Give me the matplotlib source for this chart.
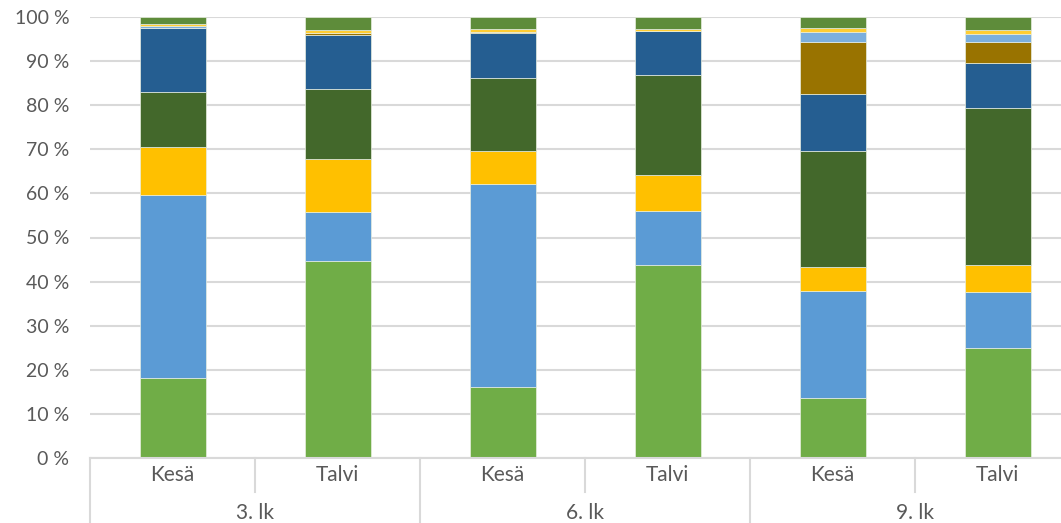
import matplotlib
matplotlib.use("Agg")
import matplotlib.pyplot as plt
from matplotlib.lines import Line2D
import numpy as np

groups = ["3. lk", "6. lk", "9. lk"]
seasons = ["Kesä", "Talvi", "Kesä", "Talvi", "Kesä", "Talvi"]

s1 = [18.1, 44.7, 16.1, 43.8, 13.6, 24.9]
s2 = [41.5, 11.1, 46.0, 12.2, 24.3, 12.7]
s3 = [10.9, 12.0, 7.5, 8.2, 5.4, 6.2]
s4 = [12.5, 15.9, 16.6, 22.6, 26.3, 35.5]
s5 = [14.6, 12.2, 10.1, 10.0, 12.9, 10.2]
s6 = [0.0, 0.4, 0.3, 0.0, 11.8, 4.8]
s7 = [0.3, 0.0, 0.0, 0.0, 2.4, 1.8]
s8 = [0.6, 0.7, 0.6, 0.5, 0.7, 0.9]
s9 = [1.5, 3.0, 2.8, 2.7, 2.6, 3.0]

series = [s1, s2, s3, s4, s5, s6, s7, s8, s9]
colors = ["#70AD47", "#5B9BD5", "#FFC000", "#43682B", "#255E91",
          "#997300", "#7CAFDD", "#FFCD33", "#5E8C3A"]

plt.rcParams["font.family"] = ["Lato", "DejaVu Sans"]

W, H = 1061, 523
fig = plt.figure(figsize=(W / 100, H / 100), dpi=100)
left, right, bottom_px, top_px = 90, 1061, 458, 17
ax = fig.add_axes([left / W, (H - bottom_px) / H, (right - left) / W, (bottom_px - top_px) / H])

slot = 165.0
x = np.arange(len(seasons))
ax.set_xlim(-0.5, -0.5 + (right - left) / slot)
ax.set_ylim(0, 100)

bottom = np.zeros(len(seasons))
for vals, c in zip(series, colors):
    v = np.array(vals)
    ax.bar(x, v, bottom=bottom, width=0.4, color=c, edgecolor="#E8EEE0", linewidth=0.5, zorder=3)
    bottom += v

ax.set_yticks(np.arange(0, 101, 10))
ax.set_yticklabels([f"{t} %" for t in range(0, 101, 10)], fontsize=14, color="#595959")
ax.yaxis.grid(True, color="#D9D9D9", linewidth=1.5, zorder=0)
ax.tick_params(axis="y", length=0, pad=15)
ax.set_xticks([])
for sp in ["top", "right", "left"]:
    ax.spines[sp].set_visible(False)
ax.spines["bottom"].set_color("#D9D9D9")
ax.spines["bottom"].set_linewidth(1.5)
ax.spines["bottom"].set_zorder(4)

trans = ax.get_xaxis_transform()
for i, s in enumerate(seasons):
    ax.text(x[i], -17 / 441, s, transform=trans, ha="center", va="center",
            fontsize=15, color="#595959")
for g, name in enumerate(groups):
    ax.text(2 * g + 0.5, -55 / 441, name, transform=trans, ha="center", va="center",
            fontsize=15, color="#595959")

for b in [-0.5, 1.5, 3.5, 5.5]:
    ax.add_line(Line2D([b, b], [0, -70 / 441], transform=trans, color="#D9D9D9",
                       linewidth=1.5, clip_on=False))
for b in [0.5, 2.5, 4.5]:
    ax.add_line(Line2D([b, b], [0, -34 / 441], transform=trans, color="#D9D9D9",
                       linewidth=1.5, clip_on=False))

fig.savefig("out.png", dpi=100)
